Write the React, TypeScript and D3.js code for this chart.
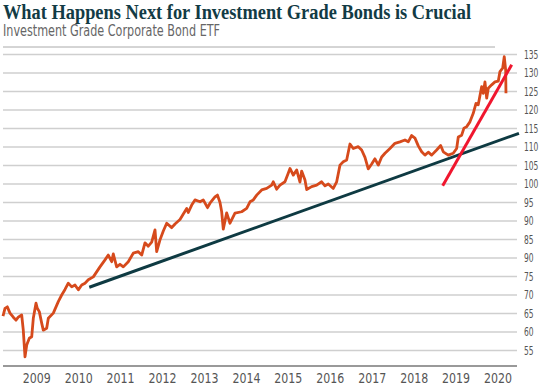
import { useEffect } from "react";
import * as d3 from "d3";

// series: decimal year, ETF value
const years = [
  2008.196, 2008.244, 2008.299, 2008.363, 2008.442, 2008.506, 2008.561, 2008.642, 2008.68, 2008.721,
  2008.762, 2008.824, 2008.881, 2008.919, 2008.983, 2009.014, 2009.062, 2009.119, 2009.157, 2009.238,
  2009.277, 2009.396, 2009.515, 2009.596, 2009.675, 2009.753, 2009.835, 2009.913, 2009.992, 2010.073,
  2010.152, 2010.23, 2010.35, 2010.509, 2010.629, 2010.707, 2010.788, 2010.826, 2010.907, 2010.986,
  2011.065, 2011.184, 2011.303, 2011.423, 2011.504, 2011.582, 2011.661, 2011.742, 2011.821, 2011.861,
  2011.94, 2012.019, 2012.1, 2012.219, 2012.298, 2012.417, 2012.496, 2012.577, 2012.615, 2012.696,
  2012.774, 2012.894, 2012.972, 2013.073, 2013.132, 2013.251, 2013.311, 2013.371, 2013.411, 2013.449,
  2013.53, 2013.609, 2013.728, 2013.888, 2014.007, 2014.086, 2014.165, 2014.246, 2014.365, 2014.484,
  2014.603, 2014.641, 2014.722, 2014.801, 2014.92, 2014.998, 2015.04, 2015.118, 2015.199, 2015.278,
  2015.318, 2015.397, 2015.438, 2015.557, 2015.676, 2015.795, 2015.874, 2015.953, 2016.072, 2016.153,
  2016.232, 2016.31, 2016.391, 2016.47, 2016.549, 2016.668, 2016.749, 2016.828, 2016.906, 2016.988,
  2017.066, 2017.145, 2017.226, 2017.305, 2017.424, 2017.543, 2017.662, 2017.781, 2017.86, 2017.941,
  2018.02, 2018.099, 2018.18, 2018.258, 2018.337, 2018.418, 2018.537, 2018.633, 2018.695, 2018.814,
  2018.933, 2019.014, 2019.053, 2019.134, 2019.188, 2019.253, 2019.331, 2019.41, 2019.475, 2019.529,
  2019.61, 2019.649, 2019.689, 2019.73, 2019.768, 2019.849, 2019.928, 2020.006, 2020.047, 2020.111,
  2020.149, 2020.183, 2020.19,
];
const values = [
  64.3, 66.4, 66.8, 65.1, 64.0, 63.2, 64.0, 64.6, 60.5, 53.3,
  56.5, 58.3, 58.7, 63.7, 67.8, 66.4, 65.5, 62.4, 60.5, 61.0,
  63.7, 65.1, 68.2, 70.0, 71.5, 73.2, 72.2, 72.7, 71.4, 72.7,
  73.2, 74.1, 74.9, 77.6, 79.5, 80.8, 79.0, 81.1, 77.6, 78.3,
  77.6, 79.0, 81.3, 81.7, 80.8, 84.1, 83.2, 84.3, 87.6, 81.7,
  84.9, 87.3, 89.4, 88.2, 89.2, 90.4, 91.9, 93.4, 92.3, 94.3,
  95.7, 95.2, 95.7, 93.6, 94.8, 96.5, 97.0, 95.0, 92.5, 87.8,
  92.2, 89.4, 92.1, 92.5, 93.4, 95.2, 95.7, 97.0, 98.4, 98.8,
  99.7, 100.6, 98.6, 99.7, 100.6, 102.9, 104.2, 102.4, 103.8, 100.5,
  103.5, 101.1, 98.5, 99.3, 99.7, 100.6, 99.5, 100.0, 98.8, 100.6,
  105.1, 106.0, 106.5, 110.8, 109.6, 110.1, 109.2, 107.2, 104.1, 105.4,
  106.8, 105.1, 107.3, 108.3, 109.6, 111.0, 111.4, 111.9, 111.4, 113.1,
  112.4, 110.3, 108.7, 107.8, 108.6, 107.8, 109.2, 110.4, 108.7, 107.8,
  108.3, 109.6, 112.7, 113.2, 115.1, 115.5, 116.8, 119.1, 121.8, 121.4,
  126.3, 124.5, 127.6, 123.2, 125.9, 126.8, 127.6, 127.8, 130.4, 131.3,
  134.4, 130.8, 124.5,
];

// long-term trend (dark) and recent trend (red): [year, value] endpoints
const longTrend: [number, number][] = [[2010.254, 72.1], [2020.5, 113.7]];
const recentTrend: [number, number][] = [[2018.681, 99.5], [2020.326, 132.2]];

const xTicks = [2009, 2010, 2011, 2012, 2013, 2014, 2015, 2016, 2017, 2018, 2019, 2020];
const yTicks = [135, 130, 125, 120, 115, 110, 105, 100, 95, 90, 85, 80, 75, 70, 65, 60, 55];
const yTickLabels = ["135", "130", "125", "120", "115", "110", "105", "100", "95", "90", "85", "90", "75", "70", "65", "60", "55"];

const title = "What Happens Next for Investment Grade Bonds is Crucial";
const subtitle = "Investment Grade Corporate Bond ETF";

const W = 540;
const H = 388;
const left = 3;
const gridRight = 517;
const axisY = 366;

const condensed = "'Liberation Sans Narrow', 'DejaVu Sans Condensed', 'Roboto', sans-serif";

const App = () => {
  useEffect(() => {
    document.body.style.margin = "0";
  }, []);

  const x = d3.scaleLinear().domain([2009, 2020]).range([36.7, 498]);
  const y = d3.scaleLinear().domain([55, 135]).range([350.5, 54.5]);

  const series = years.map((yr, i) => [yr, values[i]] as [number, number]);
  const line = d3
    .line<[number, number]>()
    .x((d) => x(d[0]))
    .y((d) => y(d[1]));

  return (
    <svg width={W} height={H} style={{ display: "block" }}>
      <rect width={W} height={H} fill="#fff" />
      <text
        x={3}
        y={19}
        fontFamily="'Liberation Serif', 'DejaVu Serif', serif"
        fontWeight="bold"
        fontSize={20}
        fill="#123b45"
        textLength={468}
        lengthAdjust="spacingAndGlyphs"
      >
        {title}
      </text>
      <text
        x={3}
        y={36}
        fontFamily={condensed}
        fontSize={15}
        fill="#666"
        textLength={217}
        lengthAdjust="spacingAndGlyphs"
      >
        {subtitle}
      </text>

      <line x1={left} x2={495} y1={47} y2={47} stroke="#aaa" strokeWidth={1} />

      {yTicks.map((t, i) => (
        <g key={t + "-" + i}>
          <line x1={left} x2={gridRight} y1={y(t)} y2={y(t)} stroke="#cfcfcf" strokeWidth={1.5} />
          <text
            x={524}
            y={y(t)}
            dy="0.35em"
            fontFamily={condensed}
            fontSize={11.5}
            fill="#555"
            textLength={yTickLabels[i].length * 4.8}
            lengthAdjust="spacingAndGlyphs"
          >
            {yTickLabels[i]}
          </text>
        </g>
      ))}

      <line x1={left} x2={gridRight} y1={axisY} y2={axisY} stroke="#777" strokeWidth={1.5} />
      {xTicks.map((t) => (
        <text
          key={t}
          x={x(t) - 14}
          y={383}
          fontFamily={condensed}
          fontSize={14}
          fill="#555"
          textLength={28}
          lengthAdjust="spacingAndGlyphs"
        >
          {t}
        </text>
      ))}

      <path d={line(series) || ""} fill="none" stroke="#d64a1c" strokeWidth={2.8} strokeLinejoin="round" />
      <path d={line(longTrend) || ""} fill="none" stroke="#0e3a42" strokeWidth={3} />
      <path d={line(recentTrend) || ""} fill="none" stroke="#f0162e" strokeWidth={3} />
    </svg>
  );
};

export default App;
